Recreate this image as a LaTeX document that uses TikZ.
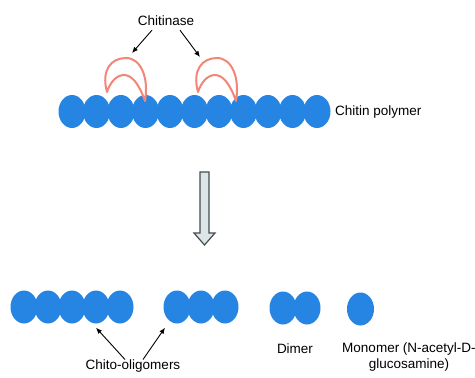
\documentclass[tikz,border=0pt]{standalone}
\usepackage{fontspec}
\setmainfont{Liberation Sans}
\usepackage{xcolor}
\usepackage{tikz}
\usetikzlibrary{arrows.meta,shapes.geometric}
\definecolor{BeadBlue}{RGB}{38,132,226}
\definecolor{EnzymeRed}{RGB}{242,134,120}
\definecolor{BlockFill}{RGB}{220,229,231}
\definecolor{BlockLine}{RGB}{70,76,80}

\begin{document}
\begin{tikzpicture}[
  x=1pt, y=-1pt,
  font=\fontsize{13.5}{16.2}\selectfont,
  bead/.style={ellipse, fill=BeadBlue, minimum width=27pt, minimum height=33pt, inner sep=0pt},
  enzyme/.style={draw=EnzymeRed, fill=white, line width=2pt, line join=round},
  label/.style={inner sep=1pt, align=center},
  pointer/.style={-{Latex[length=6pt,width=5pt]}, line width=0.9pt, color=black},
  blockarrow/.style={draw=BlockLine, fill=BlockFill, line width=1.2pt, line join=miter}
]
\useasboundingbox (0,0) rectangle (475,378);

% Chitin polymer
\foreach \i in {1,...,11}
  \node[bead] (p\i) at ({72+24.5*(\i-1)},111.5) {};
\node[label, anchor=west] (polymer) at (334,112) {Chitin polymer};

% Chitinase enzymes
\foreach \dx in {0,91}
  \draw[enzyme, xshift=\dx pt] (107,92) .. controls (101,70) and (111,58) .. (126,58)
    .. controls (141,58) and (149,78) .. (145,101)
    .. controls (139,84) and (132,75) .. (124,75)
    .. controls (116,75) and (110,83) .. (107,92) -- cycle;
\node[label] (chit) at (166,21) {Chitinase};
\coordinate (e1) at (132,53);
\coordinate (e2) at (200,57);
\draw[pointer] ([xshift=-14pt,yshift=-3pt]chit.south) -- (e1);
\draw[pointer] ([xshift=14pt,yshift=-3pt]chit.south) -- (e2);

% Hydrolysis arrow
\draw[blockarrow] (200,172) -- (209,172) -- (209,233) -- (215,233) -- (204.5,245)
  -- (194,233) -- (200,233) -- cycle;

% Products
\foreach \i in {1,...,5}
  \node[bead] (a\i) at ({24+24*(\i-1)},307) {};
\foreach \i in {1,...,3}
  \node[bead] (b\i) at ({177+24*(\i-1)},307) {};
\node[bead] (d1) at (283,308) {};
\node[bead] (d2) at (307,308) {};
\node[bead] (mono) at (360.5,309) {};

\node[label] (chito) at (133,366) {Chito-oligomers};
\node[label] (dimer) at (295,349) {Dimer};
\node[label] (monolab) at (409,357) {Monomer (N-acetyl-D-\\glucosamine)};

\draw[pointer] ([xshift=-8pt,yshift=-1pt]chito.north) -- ([yshift=-4pt]a4.south);
\draw[pointer] ([xshift=10pt,yshift=-1pt]chito.north) -- ([xshift=-12pt,yshift=-4pt]b1.south);
\end{tikzpicture}
\end{document}
